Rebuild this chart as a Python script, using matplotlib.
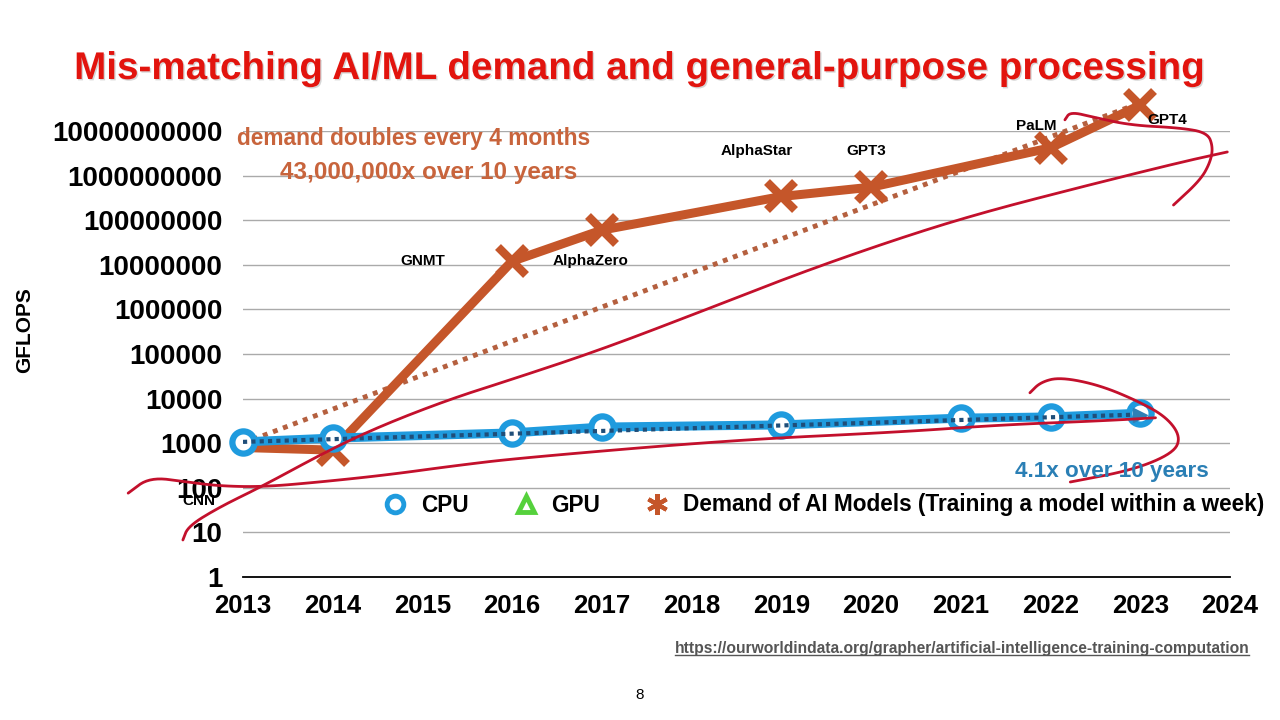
import numpy as np
import matplotlib
matplotlib.use("Agg")
import matplotlib.pyplot as plt
from matplotlib.lines import Line2D
import matplotlib.patheffects as pe

matplotlib.rcParams.update({'font.family': ['Liberation Sans', 'DejaVu Sans'],
                            'font.weight': 'bold'})

# CPU peak performance (GFLOPS)
cpu_years = [2013, 2014, 2016, 2017, 2019, 2021, 2022, 2023]
cpu_gflops = [1070, 1300, 1700, 2300, 2570, 3650, 3870, 4700]
cpu_trend_years = [2013, 2023]
cpu_trend = [1070, 4400]

# demand of AI models (GFLOPS to train within a week)
ai_years = [2013, 2014, 2016, 2017, 2019, 2020, 2022, 2023]
ai_gflops = [800, 700, 1.2e7, 6.0e7, 3.4e8, 5.5e8, 4.2e9, 3.8e10]
ai_models = ['CNN', 'GNMT', 'AlphaZero', 'AlphaStar', 'GPT3', 'PaLM', 'GPT4']
ai_trend_years = [2013, 2023]
ai_trend = [1000, 4.3e10]

yticks = [10 ** k for k in range(11)]
xticks = list(range(2013, 2025))

# hand-drawn red ink on the slide (year, log10 value)
ink_steep_x = [2012.33, 2012.39, 2012.74, 2013.22, 2014.0, 2014.61, 2015.34, 2015.98,
               2016.98, 2018.09, 2019.21, 2020.32, 2021.22, 2022.33, 2023.45, 2023.97]
ink_steep_y = [0.83, 1.14, 1.57, 2.04, 2.89, 3.45, 4.01, 4.42,
               5.09, 5.94, 6.82, 7.60, 8.16, 8.74, 9.30, 9.53]
ink_flat_x = [2011.72, 2011.96, 2012.38, 2012.74, 2013.22, 2013.86, 2014.61, 2015.34,
              2016.09, 2018.46, 2020.32, 2021.44, 2022.55, 2023.17]
ink_flat_y = [1.88, 2.24, 2.13, 2.04, 2.02, 2.13, 2.29, 2.49,
              2.67, 3.07, 3.25, 3.41, 3.50, 3.57]
ink_top_x = [2022.16, 2022.22, 2022.48, 2022.89, 2023.45, 2023.75, 2023.81, 2023.78, 2023.67, 2023.37]
ink_top_y = [10.25, 10.43, 10.31, 10.13, 10.07, 9.96, 9.64, 9.30, 8.90, 8.34]
ink_low_x = [2021.77, 2021.89, 2022.11, 2022.55, 2023.0, 2023.30, 2023.45, 2023.37, 2022.92, 2022.22]
ink_low_y = [4.13, 4.37, 4.48, 4.30, 3.92, 3.57, 3.14, 2.78, 2.40, 2.13]

BLUE = '#1F9BDE'
ORANGE = '#C5562A'
INK = '#C3102C'


def chaikin(xs, ys, n=3):
    # round off the pen stroke corners
    p = np.column_stack([xs, ys])
    for _ in range(n):
        q = 0.75 * p[:-1] + 0.25 * p[1:]
        r = 0.25 * p[:-1] + 0.75 * p[1:]
        mid = np.empty((2 * len(q), 2))
        mid[0::2] = q
        mid[1::2] = r
        p = np.vstack([p[:1], mid, p[-1:]])
    return p[:, 0], p[:, 1]


fig = plt.figure(figsize=(12.8, 7.2), dpi=100, facecolor='white')
ax = fig.add_axes([243 / 1280, 1 - 577 / 720, 987 / 1280, 446 / 720])
ax.set_yscale('log')
ax.set_xlim(2013, 2024)
ax.set_ylim(1, 1e10)

for s in ['top', 'right', 'left']:
    ax.spines[s].set_visible(False)
ax.spines['bottom'].set_color('black')
ax.spines['bottom'].set_linewidth(1.3)
ax.set_yticks(yticks)
ax.set_yticklabels([str(v) for v in yticks])
ax.yaxis.set_minor_locator(matplotlib.ticker.NullLocator())
ax.set_xticks(xticks)
ax.set_xticklabels([str(v) for v in xticks])
ax.tick_params(axis='y', length=0, pad=15, labelsize=20)
ax.tick_params(axis='x', length=0, pad=12, labelsize=18.5)
ax.grid(axis='y', color='#AAAAAA', linewidth=1)
ax.set_axisbelow(True)

# trend lines and series
ax.plot(ai_trend_years, ai_trend, color='#B5603F', linestyle=(0, (1, 1.2)),
        linewidth=3.5, zorder=2, clip_on=False)
ax.plot(ai_years, ai_gflops, color=ORANGE, linewidth=6.5, marker='x', markersize=20,
        markeredgewidth=6, markevery=list(range(1, len(ai_years))), zorder=3, clip_on=False)
ax.plot(cpu_years, cpu_gflops, color=BLUE, linewidth=6.5, marker='o', markersize=16,
        markerfacecolor='white', markeredgecolor=BLUE, markeredgewidth=4.5, zorder=4,
        clip_on=False)
ax.plot(cpu_trend_years, cpu_trend, color='#1F4E79', linestyle=(0, (1, 1)),
        linewidth=3, zorder=5)
ax.plot(cpu_trend_years[-1], cpu_trend[-1], marker='>', color='#2E7FB5', markersize=10,
        zorder=5, clip_on=False)

# model names
label_x = [2012.51, 2015.0, 2016.87, 2018.73, 2019.95, 2021.84, 2023.30]
label_y = [10 ** 1.70, 10 ** 7.09, 10 ** 7.09, 10 ** 9.55, 10 ** 9.55, 10 ** 10.11, 10 ** 10.25]
for name, lx, ly in zip(ai_models, label_x, label_y):
    ax.text(lx, ly, name, fontsize=11, ha='center', va='center', zorder=6, clip_on=False)

# red ink
for xs, ys in [(ink_steep_x, ink_steep_y), (ink_flat_x, ink_flat_y),
               (ink_top_x, ink_top_y), (ink_low_x, ink_low_y)]:
    sx, sy = chaikin(xs, ys)
    ax.plot(sx, 10 ** sy, color=INK, linewidth=2, solid_capstyle='round',
            solid_joinstyle='round', zorder=7, clip_on=False)

# texts
fig.text(640 / 1280, 1 - 69 / 720, 'Mis-matching AI/ML demand and general-purpose processing',
         color='#E2140E', fontsize=27.8, ha='center', va='center',
         path_effects=[pe.withSimplePatchShadow(offset=(1, -1), shadow_rgbFace='#999999', alpha=0.4)])
fig.text(414 / 1280, 1 - 138 / 720, 'demand doubles every 4 months', color='#C8643C',
         fontsize=16.4, ha='center', va='center')
fig.text(429 / 1280, 1 - 172 / 720, '43,000,000x over 10 years', color='#C8643C',
         fontsize=17.5, ha='center', va='center')
fig.text(1112 / 1280, 1 - 471 / 720, '4.1x over 10 years', color='#2A7FB5',
         fontsize=16.2, ha='center', va='center', zorder=1)
fig.text(25 / 1280, 1 - 330 / 720, 'GFLOPS', rotation=90, fontsize=15,
         ha='center', va='center')
url = fig.text(962 / 1280, 1 - 649 / 720,
               'https://ourworldindata.org/grapher/artificial-intelligence-training-computation',
               color='#555555', fontsize=11.25, ha='center', va='center')
fig.text(640 / 1280, 1 - 695 / 720, '8', fontsize=11, fontweight='normal',
         ha='center', va='center')

# legend
handles = [
    Line2D([], [], linestyle='none', marker='o', markersize=12, markerfacecolor='white',
           markeredgecolor=BLUE, markeredgewidth=3.5),
    Line2D([], [], linestyle='none', marker='^', markersize=12, markerfacecolor='white',
           markeredgecolor='#55D13C', markeredgewidth=3.5),
    Line2D([], [], linestyle='none', marker=(6, 2, 0), markersize=15, color=ORANGE,
           markeredgewidth=3),
]
fig.legend(handles, ['CPU', 'GPU', 'Demand of AI Models (Training a model within a week)'],
           loc='center', bbox_to_anchor=(823 / 1280, 1 - 505 / 720), ncol=3, frameon=False,
           fontsize=16.3, handletextpad=0.55, columnspacing=1.9, handlelength=1.2)

# underline the url
fig.canvas.draw()
bb = url.get_window_extent(fig.canvas.get_renderer()).transformed(fig.transFigure.inverted())
fig.add_artist(Line2D([bb.x0, bb.x1], [bb.y0 + 0.002, bb.y0 + 0.002], color='#555555',
                      linewidth=1, transform=fig.transFigure))

fig.savefig('out.png', dpi=100, facecolor='white')
